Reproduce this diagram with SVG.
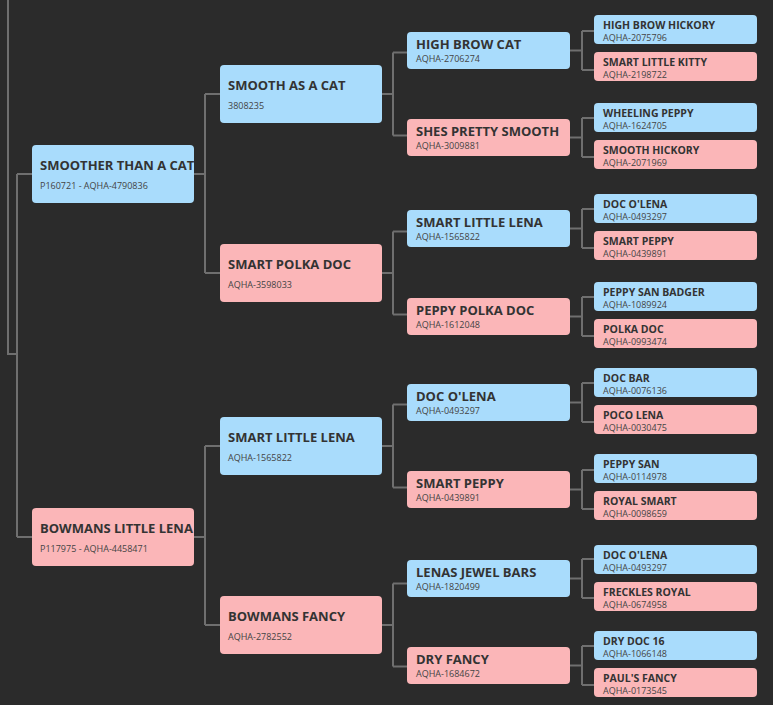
<svg xmlns="http://www.w3.org/2000/svg" width="773" height="705" viewBox="0 0 773 705">
<style>
.bg{fill:#2b2b2b}
.m{fill:#a9dcfc}
.f{fill:#fbb6b8}
.t1{font-family:"Open Sans","Liberation Sans",sans-serif;font-weight:700;font-size:13px;fill:#333}
.t4{font-family:"Open Sans","Liberation Sans",sans-serif;font-weight:700;font-size:10.5px;fill:#333}
.s{font-family:"Open Sans","Liberation Sans",sans-serif;font-size:9px;fill:#444}
.c{fill:none;stroke:#6f6f6f;stroke-width:2}
</style>
<rect class="bg" x="0" y="0" width="773" height="705"/>
<g id="connectors" class="c">
<path d="M8,0V354H17M17,174V537M17,174H32M17,537H32"/>
<path d="M194,174H205M205,94V273M205,94H220M205,273H220"/>
<path d="M194,537H205M205,446V625M205,446H220M205,625H220"/>
<path d="M382,94H393M393,52.5V135.5M393,52.5H407M393,135.5H407"/>
<path d="M382,273H393M393,231.5V314.5M393,231.5H407M393,314.5H407"/>
<path d="M382,446H393M393,404.5V487.5M393,404.5H407M393,487.5H407"/>
<path d="M382,625H393M393,583.5V666.5M393,583.5H407M393,666.5H407"/>
<path d="M570,50.5H582M582,31V70M582,31H594M582,70H594"/>
<path d="M570,137.5H582M582,118V157M582,118H594M582,157H594"/>
<path d="M570,228.5H582M582,209V248M582,209H594M582,248H594"/>
<path d="M570,316.5H582M582,297V336M582,297H594M582,336H594"/>
<path d="M570,402.5H582M582,383V422M582,383H594M582,422H594"/>
<path d="M570,489.5H582M582,470V509M582,470H594M582,509H594"/>
<path d="M570,578.5H582M582,559V598M582,559H594M582,598H594"/>
<path d="M570,665.5H582M582,646V685M582,646H594M582,685H594"/>
</g>
<g id="n-smoother"><rect class="m" x="32" y="145" width="162" height="58" rx="4"/><text class="t1" x="40" y="170">SMOOTHER THAN A CAT</text><text class="s" x="40" y="189">P160721 - AQHA-4790836</text></g>
<g id="n-bowmans-little-lena"><rect class="f" x="32" y="508" width="162" height="58" rx="4"/><text class="t1" x="40" y="533">BOWMANS LITTLE LENA</text><text class="s" x="40" y="552">P117975 - AQHA-4458471</text></g>

<g id="n-smooth-as-a-cat"><rect class="m" x="220" y="65" width="162" height="58" rx="4"/><text class="t1" x="228" y="90">SMOOTH AS A CAT</text><text class="s" x="228" y="109">3808235</text></g>
<g id="n-smart-polka-doc"><rect class="f" x="220" y="244" width="162" height="58" rx="4"/><text class="t1" x="228" y="269">SMART POLKA DOC</text><text class="s" x="228" y="288">AQHA-3598033</text></g>
<g id="n-smart-little-lena-2"><rect class="m" x="220" y="417" width="162" height="58" rx="4"/><text class="t1" x="228" y="442">SMART LITTLE LENA</text><text class="s" x="228" y="461">AQHA-1565822</text></g>
<g id="n-bowmans-fancy"><rect class="f" x="220" y="596" width="162" height="58" rx="4"/><text class="t1" x="228" y="621">BOWMANS FANCY</text><text class="s" x="228" y="640">AQHA-2782552</text></g>

<g id="n-high-brow-cat"><rect class="m" x="407" y="32" width="163" height="37" rx="4"/><text class="t1" x="416" y="49">HIGH BROW CAT</text><text class="s" x="416" y="62">AQHA-2706274</text></g>
<g id="n-shes-pretty-smooth"><rect class="f" x="407" y="119" width="163" height="37" rx="4"/><text class="t1" x="416" y="136">SHES PRETTY SMOOTH</text><text class="s" x="416" y="149">AQHA-3009881</text></g>
<g id="n-smart-little-lena-3"><rect class="m" x="407" y="210" width="163" height="37" rx="4"/><text class="t1" x="416" y="227">SMART LITTLE LENA</text><text class="s" x="416" y="240">AQHA-1565822</text></g>
<g id="n-peppy-polka-doc"><rect class="f" x="407" y="298" width="163" height="37" rx="4"/><text class="t1" x="416" y="315">PEPPY POLKA DOC</text><text class="s" x="416" y="328">AQHA-1612048</text></g>
<g id="n-doc-olena-3"><rect class="m" x="407" y="384" width="163" height="37" rx="4"/><text class="t1" x="416" y="401">DOC O'LENA</text><text class="s" x="416" y="414">AQHA-0493297</text></g>
<g id="n-smart-peppy-3"><rect class="f" x="407" y="471" width="163" height="37" rx="4"/><text class="t1" x="416" y="488">SMART PEPPY</text><text class="s" x="416" y="501">AQHA-0439891</text></g>
<g id="n-lenas-jewel-bars"><rect class="m" x="407" y="560" width="163" height="37" rx="4"/><text class="t1" x="416" y="577">LENAS JEWEL BARS</text><text class="s" x="416" y="590">AQHA-1820499</text></g>
<g id="n-dry-fancy"><rect class="f" x="407" y="647" width="163" height="37" rx="4"/><text class="t1" x="416" y="664">DRY FANCY</text><text class="s" x="416" y="677">AQHA-1684672</text></g>

<g id="n-high-brow-hickory"><rect class="m" x="594" y="15" width="163" height="29" rx="4"/><text class="t4" x="603" y="29">HIGH BROW HICKORY</text><text class="s" x="603" y="41">AQHA-2075796</text></g>
<g id="n-smart-little-kitty"><rect class="f" x="594" y="52" width="163" height="29" rx="4"/><text class="t4" x="603" y="66">SMART LITTLE KITTY</text><text class="s" x="603" y="78">AQHA-2198722</text></g>
<g id="n-wheeling-peppy"><rect class="m" x="594" y="103" width="163" height="29" rx="4"/><text class="t4" x="603" y="117">WHEELING PEPPY</text><text class="s" x="603" y="129">AQHA-1624705</text></g>
<g id="n-smooth-hickory"><rect class="f" x="594" y="140" width="163" height="29" rx="4"/><text class="t4" x="603" y="154">SMOOTH HICKORY</text><text class="s" x="603" y="166">AQHA-2071969</text></g>
<g id="n-doc-olena-4a"><rect class="m" x="594" y="194" width="163" height="29" rx="4"/><text class="t4" x="603" y="208">DOC O'LENA</text><text class="s" x="603" y="220">AQHA-0493297</text></g>
<g id="n-smart-peppy-4"><rect class="f" x="594" y="231" width="163" height="29" rx="4"/><text class="t4" x="603" y="245">SMART PEPPY</text><text class="s" x="603" y="257">AQHA-0439891</text></g>
<g id="n-peppy-san-badger"><rect class="m" x="594" y="282" width="163" height="29" rx="4"/><text class="t4" x="603" y="296">PEPPY SAN BADGER</text><text class="s" x="603" y="308">AQHA-1089924</text></g>
<g id="n-polka-doc"><rect class="f" x="594" y="319" width="163" height="29" rx="4"/><text class="t4" x="603" y="333">POLKA DOC</text><text class="s" x="603" y="345">AQHA-0993474</text></g>
<g id="n-doc-bar"><rect class="m" x="594" y="368" width="163" height="29" rx="4"/><text class="t4" x="603" y="382">DOC BAR</text><text class="s" x="603" y="394">AQHA-0076136</text></g>
<g id="n-poco-lena"><rect class="f" x="594" y="405" width="163" height="29" rx="4"/><text class="t4" x="603" y="419">POCO LENA</text><text class="s" x="603" y="431">AQHA-0030475</text></g>
<g id="n-peppy-san"><rect class="m" x="594" y="454" width="163" height="29" rx="4"/><text class="t4" x="603" y="468">PEPPY SAN</text><text class="s" x="603" y="480">AQHA-0114978</text></g>
<g id="n-royal-smart"><rect class="f" x="594" y="491" width="163" height="29" rx="4"/><text class="t4" x="603" y="505">ROYAL SMART</text><text class="s" x="603" y="517">AQHA-0098659</text></g>
<g id="n-doc-olena-4b"><rect class="m" x="594" y="545" width="163" height="29" rx="4"/><text class="t4" x="603" y="559">DOC O'LENA</text><text class="s" x="603" y="571">AQHA-0493297</text></g>
<g id="n-freckles-royal"><rect class="f" x="594" y="582" width="163" height="29" rx="4"/><text class="t4" x="603" y="596">FRECKLES ROYAL</text><text class="s" x="603" y="608">AQHA-0674958</text></g>
<g id="n-dry-doc-16"><rect class="m" x="594" y="631" width="163" height="29" rx="4"/><text class="t4" x="603" y="645">DRY DOC 16</text><text class="s" x="603" y="657">AQHA-1066148</text></g>
<g id="n-pauls-fancy"><rect class="f" x="594" y="668" width="163" height="29" rx="4"/><text class="t4" x="603" y="682">PAUL'S FANCY</text><text class="s" x="603" y="694">AQHA-0173545</text></g>
</svg>
